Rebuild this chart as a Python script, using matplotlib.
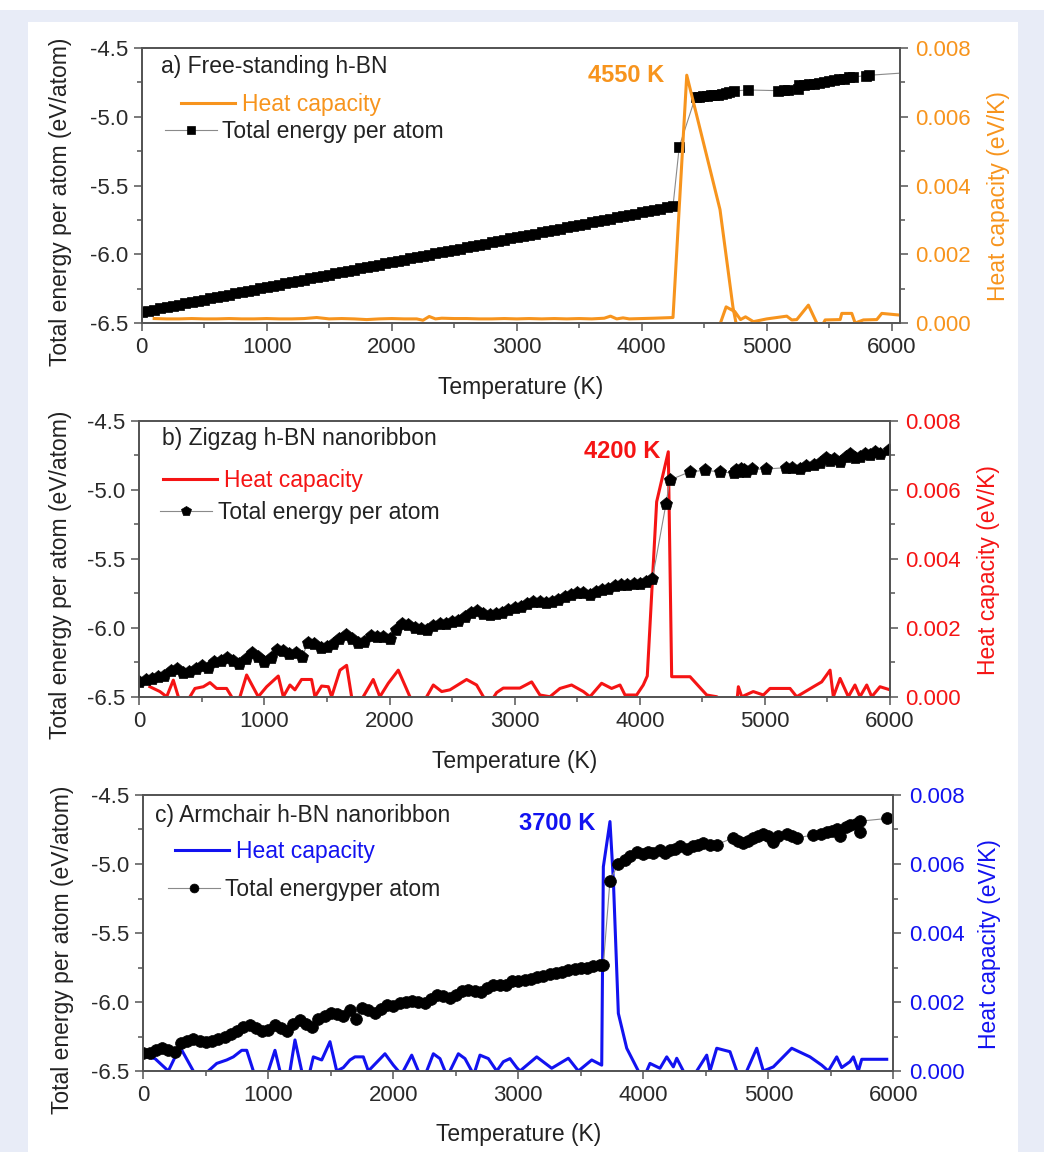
import numpy as np
import matplotlib.pyplot as plt
from matplotlib.patches import Rectangle
from matplotlib.ticker import MultipleLocator, FormatStrFormatter

plt.rcParams['font.family'] = ['Liberation Sans', 'DejaVu Sans']

ORANGE = '#F7941D'
RED = '#F51414'
BLUE = '#1212F0'
DARK = '#222222'
SPINE = '#555555'

# ---------------- a) free-standing h-BN ----------------
temp_a = list(range(0, 4300, 50)) + [
    4300, 4430, 4460, 4490, 4520, 4550, 4580, 4610, 4640, 4670, 4700, 4740, 4850,
    5090, 5140, 5170, 5250, 5260, 5300, 5340, 5380, 5420, 5460, 5500, 5540, 5580,
    5620, 5660, 5690, 5790, 5820, 6110]
energy_a = [
    -6.420, -6.411, -6.402, -6.393, -6.384, -6.375, -6.366, -6.357, -6.348, -6.338,
    -6.329, -6.320, -6.311, -6.302, -6.293, -6.284, -6.275, -6.266, -6.257, -6.248,
    -6.239, -6.230, -6.221, -6.212, -6.203, -6.194, -6.184, -6.175, -6.166, -6.157,
    -6.148, -6.139, -6.130, -6.121, -6.112, -6.103, -6.094, -6.085, -6.076, -6.067,
    -6.058, -6.049, -6.039, -6.030, -6.021, -6.012, -6.003, -5.994, -5.985, -5.976,
    -5.967, -5.958, -5.949, -5.940, -5.931, -5.922, -5.913, -5.904, -5.895, -5.885,
    -5.876, -5.867, -5.858, -5.849, -5.840, -5.831, -5.822, -5.813, -5.804, -5.795,
    -5.786, -5.777, -5.768, -5.759, -5.750, -5.740, -5.731, -5.722, -5.713, -5.704,
    -5.695, -5.686, -5.677, -5.668, -5.659, -5.650,
    -5.218, -4.855, -4.853, -4.850, -4.848, -4.845, -4.842, -4.838, -4.833, -4.826,
    -4.818, -4.812, -4.805, -4.810, -4.808, -4.805, -4.795, -4.770, -4.772, -4.765,
    -4.758, -4.752, -4.745, -4.738, -4.735, -4.728, -4.722, -4.708, -4.712, -4.700,
    -4.698, -4.680]
cp_temp_a = [
    100, 200, 300, 400, 500, 600, 700, 800, 900, 1000, 1100, 1200, 1300, 1400, 1500,
    1600, 1700, 1800, 1900, 2000, 2100, 2200, 2250, 2300, 2350, 2400, 2500, 2600,
    2700, 2800, 2900, 3000, 3100, 3200, 3300, 3400, 3500, 3600, 3700, 3750, 3800,
    3850, 3900, 4000, 4100, 4250, 4360, 4626, 4730, 4765, 4610, 4675, 4745, 4790,
    4830, 4893, 5000, 5160, 5200, 5240, 5333, 5400, 5440, 5467, 5587, 5600, 5680,
    5707, 5773, 5880, 5920, 6067]
cp_a = np.array([
    1.3, 1.2, 1.2, 1.3, 1.2, 1.2, 1.3, 1.2, 1.2, 1.3, 1.2, 1.2, 1.3, 1.6, 1.2,
    1.3, 1.2, 1.0, 1.2, 1.3, 1.2, 1.2, 0.8, 1.9, 1.2, 1.4, 1.3, 1.3,
    1.2, 1.2, 1.3, 1.2, 1.3, 1.2, 1.3, 1.2, 1.3, 1.2, 1.4, 2.0, 1.2,
    1.5, 1.2, 1.3, 1.4, 1.6, 72.1, 33.0, 4.5, -2.0, -2.0, 4.7, 3.3, 1.0,
    1.8, 0.4, 1.2, 2.0, 0.9, 1.0, 5.2, 0.0, -1.0, 0.9, 1.0, 2.8, 2.8,
    0.0, 0.9, 1.0, 2.8, 2.3]) * 1e-4

# ---------------- b) zigzag nanoribbon ----------------
temp_b = list(range(0, 4150, 50)) + [
    4210, 4240, 4400, 4520, 4640, 4750, 4770, 4790, 4810, 4830, 4850, 4900, 5010,
    5170, 5220, 5280, 5330, 5390, 5440, 5490, 5520, 5550, 5600, 5650, 5680, 5720,
    5760, 5800, 5840, 5880, 5920, 5990]
energy_b = [
    -6.39, -6.38, -6.37, -6.36, -6.35, -6.31, -6.30, -6.33, -6.32, -6.30,
    -6.28, -6.29, -6.25, -6.24, -6.22, -6.24, -6.26, -6.23, -6.18, -6.21,
    -6.25, -6.22, -6.16, -6.17, -6.19, -6.18, -6.21, -6.11, -6.12, -6.15,
    -6.14, -6.12, -6.08, -6.05, -6.08, -6.11, -6.10, -6.06, -6.07, -6.07,
    -6.08, -6.02, -5.97, -5.98, -6.00, -6.01, -6.02, -5.99, -5.97, -5.97,
    -5.96, -5.95, -5.92, -5.89, -5.88, -5.90, -5.91, -5.90, -5.89, -5.87,
    -5.86, -5.85, -5.83, -5.81, -5.81, -5.82, -5.81, -5.80, -5.78, -5.76,
    -5.75, -5.75, -5.76, -5.74, -5.73, -5.72, -5.70, -5.69, -5.69, -5.68,
    -5.68, -5.67, -5.65,
    -5.10, -4.93, -4.87, -4.86, -4.87, -4.88, -4.86, -4.87, -4.85, -4.86,
    -4.87, -4.85, -4.85, -4.84, -4.84, -4.85, -4.83, -4.82, -4.81, -4.77,
    -4.79, -4.78, -4.80, -4.76, -4.74, -4.77, -4.76, -4.74, -4.75, -4.73,
    -4.74, -4.71]
cp_temp_b = [
    85, 165, 219, 272, 312, 360, 405, 445, 512, 565, 618, 698, 738, 770, 805, 858,
    951, 1018, 1111, 1151, 1204, 1244, 1297, 1377, 1404, 1457, 1511, 1537, 1604,
    1657, 1697, 1740, 1790, 1870, 1923, 1990, 2070, 2163, 2230, 2297, 2350, 2417,
    2483, 2616, 2696, 2750, 2800, 2856, 2909, 2963, 3042, 3136, 3202, 3282, 3362,
    3455, 3549, 3602, 3695, 3775, 3842, 3882, 3975, 4028, 4060, 4135, 4228, 4255,
    4402, 4535, 4615, 4700, 4780, 4788, 4815, 4907, 4988, 5041, 5201, 5254, 5388,
    5454, 5521, 5547, 5601, 5667, 5720, 5760, 5814, 5854, 5920, 6000]
cp_b = np.array([
    2.9, 1.5, 0.0, 4.8, 0.0, -2.0, 0.0, 2.4, 2.9, 4.1, 2.4, 2.4, 0.0, -2.0, 0.0, 6.3,
    0.0, 2.9, 6.0, 0.0, 3.4, 2.0, 5.0, 5.0, 0.0, 3.1, 2.9, 0.0, 7.7,
    9.1, 0.0, -2.0, 0.0, 5.0, 0.0, 3.9, 7.7, 0.0, -2.0, 0.0, 3.4, 1.5,
    2.0, 5.0, 3.4, 0.0, -2.0, 1.2, 2.5, 2.5, 2.5, 4.3, 0.5, 0.0, 2.4,
    3.4, 1.5, 0.0, 3.9, 2.4, 3.4, 0.5, 0.5, 3.4, 6.0, 56.5, 71.0, 5.8,
    5.8, 0.5, 0.0, -2.0, 0.0, 2.9, 0.0, 1.5, 0.5, 2.4, 2.4, 0.0, 2.9,
    4.3, 7.7, 0.0, 5.3, 0.0, 3.4, 0.0, 3.4, 0.0, 2.9, 2.0]) * 1e-4

# ---------------- c) armchair nanoribbon ----------------
temp_c = list(range(0, 3700, 50)) + [
    3680, 3733, 3800, 3850, 3893, 3947, 4000, 4040, 4080, 4130, 4170, 4213, 4250,
    4293, 4350, 4400, 4440, 4480, 4530, 4587, 4720, 4760, 4800, 4840, 4880, 4920,
    4960, 5000, 5040, 5080, 5147, 5190, 5227, 5360, 5420, 5467, 5510, 5547, 5573,
    5620, 5653, 5700, 5733, 5733, 5947]
energy_c = [
    -6.37, -6.37, -6.35, -6.33, -6.35, -6.36, -6.30, -6.28, -6.27, -6.28,
    -6.29, -6.28, -6.27, -6.25, -6.23, -6.21, -6.18, -6.17, -6.19, -6.21,
    -6.20, -6.17, -6.19, -6.21, -6.16, -6.13, -6.16, -6.18, -6.12, -6.10,
    -6.08, -6.09, -6.10, -6.06, -6.12, -6.04, -6.06, -6.08, -6.05, -6.02,
    -6.03, -6.01, -6.00, -5.99, -6.00, -6.01, -5.98, -5.95, -5.96, -5.97,
    -5.95, -5.92, -5.91, -5.92, -5.93, -5.90, -5.88, -5.88, -5.88, -5.85,
    -5.85, -5.84, -5.83, -5.82, -5.81, -5.80, -5.79, -5.78, -5.77, -5.76,
    -5.75, -5.75, -5.74, -5.73,
    -5.73, -5.12, -5.00, -4.97, -4.94, -4.91, -4.93, -4.91, -4.92, -4.90,
    -4.92, -4.90, -4.89, -4.87, -4.89, -4.87, -4.86, -4.85, -4.86, -4.86,
    -4.81, -4.83, -4.85, -4.83, -4.81, -4.80, -4.78, -4.80, -4.84, -4.80,
    -4.78, -4.80, -4.81, -4.79, -4.78, -4.765, -4.76, -4.75, -4.80, -4.73,
    -4.72, -4.71, -4.765, -4.69, -4.67]
cp_temp_c = [
    27, 93, 200, 293, 400, 460, 520, 587, 667, 720, 787, 827, 880, 940, 1000, 1053,
    1093, 1133, 1173, 1213, 1267, 1300, 1333, 1360, 1427, 1493, 1547, 1600, 1653,
    1693, 1760, 1800, 1853, 1933, 2000, 2040, 2060, 2080, 2147, 2200, 2233, 2267,
    2320, 2373, 2413, 2433, 2453, 2520, 2573, 2627, 2640, 2653, 2693, 2760, 2827,
    2880, 2933, 2987, 3013, 3147, 3267, 3400, 3480, 3587, 3667, 3680, 3733, 3760,
    3800, 3867, 3960, 4000, 4027, 4053, 4133, 4187, 4240, 4267, 4320, 4380, 4427,
    4507, 4533, 4587, 4693, 4747, 4790, 4827, 4907, 4960, 5040, 5187, 5333, 5427,
    5480, 5547, 5587, 5653, 5680, 5720, 5747, 5947]
cp_c = np.array([
    4.1, 3.6, 0.0, 7.0, 0.0, -3.0, 0.0, 2.2, 3.2, 4.1, 6.0, 6.0, 0.0, -3.0, 0.0, 6.0,
    0.0, -3.0, 0.0, 9.0, 0.0, -3.0, 0.0, 4.1, 3.2, 8.5, 0.0, 1.0, 3.2,
    4.1, 4.1, 0.0, 2.0, 5.0, 1.7, 0.0, -3.0, 0.0, 4.6, 0.0, -3.0, 0.0,
    5.0, 3.6, 0.0, -3.0, 0.0, 5.0, 3.6, 0.0, -3.0, 0.0, 4.6, 3.6, 0.0,
    2.7, 3.6, 1.0, 0.0, 4.1, 0.8, 3.7, 0.0, 3.2, 1.7, 59.2, 72.3, 55.4,
    16.7, 6.6, 0.0, -3.0, 0.0, 2.2, 0.8, 4.1, 1.2, 3.7, 0.0, -3.0, 0.0,
    4.6, 0.0, 6.6, 5.6, 0.0, -3.0, 0.0, 6.6, 0.0, 1.2, 6.6, 4.1, 1.7,
    0.0, 4.1, 1.0, 2.7, 4.1, 0.0, 3.4, 3.4]) * 1e-4


def draw_panel(rect, xmax, temps, energy, marker, msize, cp_temps, cp, color,
               title, title_pos, energy_label, peak_text, peak_pos,
               leg_cp_pos, leg_e_pos, label_x, label_x2, xlabel_y, energy_on_top):
    ax = fig.add_axes(rect)
    ax2 = ax.twinx()

    e_line, = ax.plot(temps, energy, color='#8a8a8a', lw=0.8, marker=marker,
                      ms=msize, mfc='black', mec='black', mew=0.5)
    cp_line, = ax2.plot(cp_temps, cp, color=color, lw=2.2)
    if energy_on_top:
        ax.set_zorder(ax2.get_zorder() + 1)
        ax.patch.set_visible(False)

    ax.set_xlim(0, xmax)
    ax.set_ylim(-6.5, -4.5)
    ax2.set_ylim(0, 0.008)
    ax.xaxis.set_major_locator(MultipleLocator(1000))
    ax.xaxis.set_minor_locator(MultipleLocator(500))
    ax.yaxis.set_major_locator(MultipleLocator(0.5))
    ax.yaxis.set_minor_locator(MultipleLocator(0.25))
    ax2.yaxis.set_major_locator(MultipleLocator(0.002))
    ax2.yaxis.set_minor_locator(MultipleLocator(0.001))
    ax.yaxis.set_major_formatter(FormatStrFormatter('%.1f'))
    ax2.yaxis.set_major_formatter(FormatStrFormatter('%.3f'))

    for a in (ax, ax2):
        for sp in a.spines.values():
            sp.set_color(SPINE)
            sp.set_linewidth(1.3)
    ax.tick_params(which='both', direction='out', color=SPINE, labelcolor='#2a2a2a',
                   labelsize=16, width=1.1, pad=4)
    ax.tick_params(which='major', length=6)
    ax.tick_params(which='minor', length=3.5)
    ax2.tick_params(which='both', direction='out', color=SPINE, labelcolor=color,
                    labelsize=16, width=1.1, pad=5)
    ax2.tick_params(which='major', length=6)
    ax2.tick_params(which='minor', length=3.5)

    ax.set_xlabel('Temperature (K)', fontsize=16.5, color=DARK)
    ax.xaxis.set_label_coords(0.5, xlabel_y)
    ax.set_ylabel('Total energy per atom (eV/atom)', fontsize=16.5, color=DARK)
    ax.yaxis.set_label_coords(label_x, 0.44)
    ax2.set_ylabel('Heat capacity (eV/K)', fontsize=16.5, color=color)
    ax2.yaxis.set_label_coords(label_x2, 0.46)

    ax.text(title_pos[0], title_pos[1], title, transform=ax.transAxes,
            ha='left', va='center', fontsize=16.5, color=DARK)
    ax.text(peak_pos[0], peak_pos[1], peak_text, ha='right', va='center',
            fontsize=17, fontweight='bold', color=color)

    ax2.legend([cp_line], ['Heat capacity'], loc='center left',
               bbox_to_anchor=leg_cp_pos, frameon=False, fontsize=16.5,
               handlelength=2.35, handletextpad=0.3, borderpad=0,
               borderaxespad=0, labelcolor=color)
    ax.legend([e_line], [energy_label], loc='center left',
              bbox_to_anchor=leg_e_pos, frameon=False, fontsize=16.5,
              handlelength=2.25, handletextpad=0.25, borderpad=0,
              borderaxespad=0, numpoints=1, markerscale=0.75, labelcolor=DARK)
    return ax, ax2


fig = plt.figure(figsize=(10.44, 11.52), dpi=100, facecolor='#e8ecf7')
# page look: white strip on top, white card behind the plots
fig.patches.append(Rectangle((0, 1 - 10 / 1152), 1, 10 / 1152, transform=fig.transFigure,
                             facecolor='white', edgecolor='none', zorder=-2))
fig.patches.append(Rectangle((28 / 1044, 0), 990 / 1044, 1130 / 1152, transform=fig.transFigure,
                             facecolor='white', edgecolor='none', zorder=-1))

draw_panel([0.1357, 0.7196, 0.7264, 0.2387], 6066, temp_a, energy_a, 's', 7.5,
           cp_temp_a, cp_a, ORANGE, 'a) Free-standing h-BN', (0.025, 0.932),
           'Total energy per atom', '4550 K', (4180, -4.70),
           (0.052, 0.793), (0.031, 0.695), -0.092, 1.115, -0.193, False)

draw_panel([0.1334, 0.3952, 0.7191, 0.2396], 6000, temp_b, energy_b, 'p', 9.5,
           cp_temp_b, cp_b, RED, 'b) Zigzag h-BN nanoribbon', (0.030, 0.936),
           'Total energy per atom', '4200 K', (4165, -4.725),
           (0.032, 0.785), (0.028, 0.667), -0.090, 1.116, -0.192, True)

draw_panel([0.1373, 0.0703, 0.7184, 0.2396], 6000, temp_c, energy_c, 'o', 8.5,
           cp_temp_c, cp_c, BLUE, 'c) Armchair h-BN nanoribbon', (0.016, 0.9275),
           'Total energyper atom', '3700 K', (3615, -4.705),
           (0.042, 0.795), (0.033, 0.658), -0.093, 1.113, -0.188, True)

fig.savefig('out.png', dpi=100, facecolor=fig.get_facecolor())
